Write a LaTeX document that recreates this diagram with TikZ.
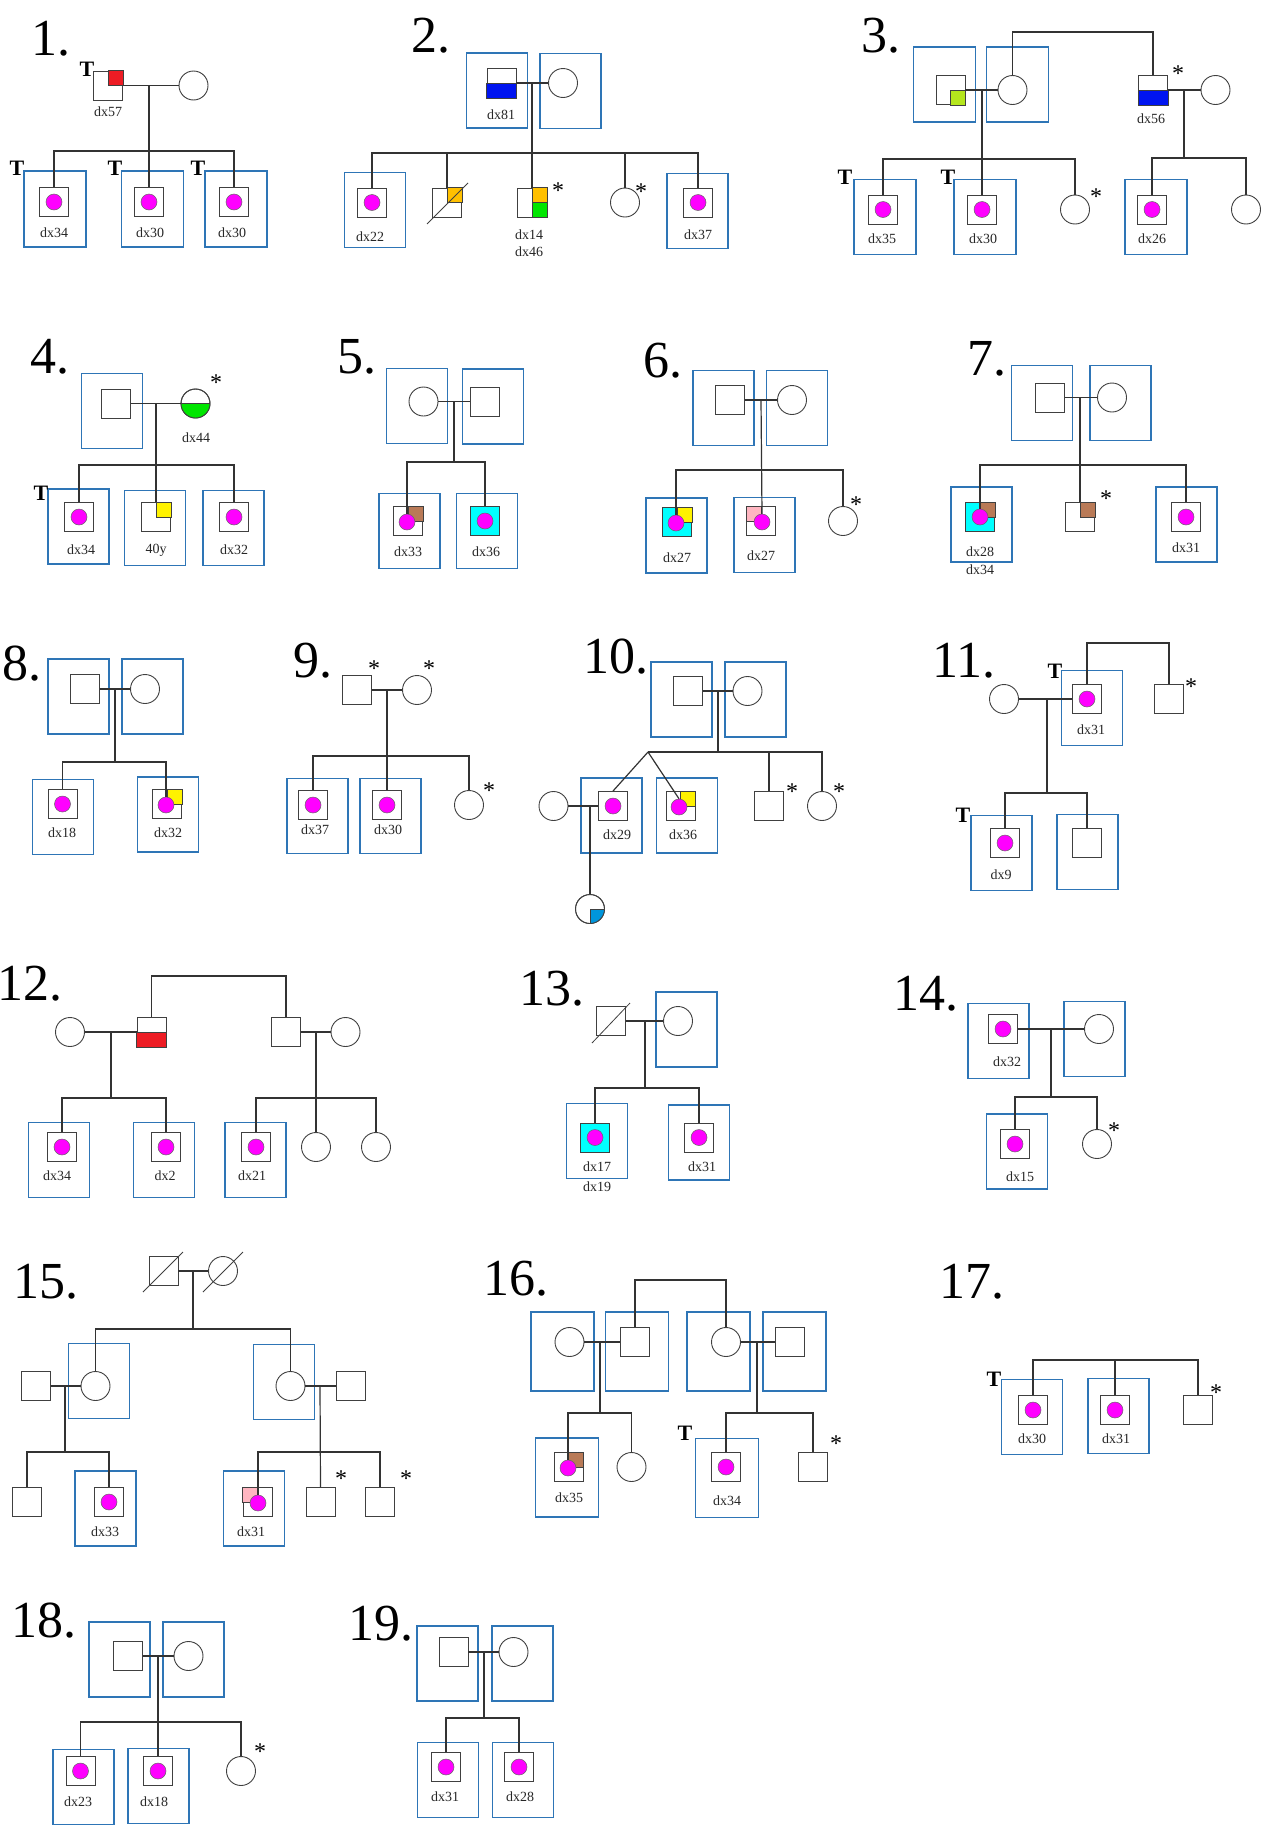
\documentclass[tikz,border=0pt]{standalone}
\usepackage{fontspec}
\setmainfont{Liberation Serif}
\usepackage{tikz}
\usetikzlibrary{positioning, calc}

\definecolor{boxblue}{RGB}{46,117,182}
\definecolor{dotpink}{RGB}{255,0,255}
\definecolor{qred}{RGB}{237,28,36}
\definecolor{qblue}{RGB}{0,20,240}
\definecolor{qgold}{RGB}{255,192,0}
\definecolor{qgreen}{RGB}{0,230,0}
\definecolor{qlime}{RGB}{181,230,29}
\definecolor{qyellow}{RGB}{255,242,0}
\definecolor{qbrown}{RGB}{185,122,87}
\definecolor{qcyan}{RGB}{0,255,255}
\definecolor{qpink}{RGB}{255,182,193}
\definecolor{qsky}{RGB}{0,150,220}

\tikzset{
  male/.style={draw=black!75, fill=white, rectangle, minimum size=29pt, inner sep=0pt, line width=0.9pt},
  female/.style={draw=black!75, fill=white, circle, minimum size=29pt, inner sep=0pt, line width=0.9pt},
  pbox/.style={draw=boxblue, line width=1.8pt, rectangle, minimum width=61pt, minimum height=75pt, inner sep=0pt},
  mdot/.style={circle, fill=dotpink, draw=black!60, line width=0.5pt, minimum size=16pt, inner sep=0pt},
  qfill/.style={fill=#1, draw=black!75, line width=0.8pt},
  lbl/.style={font=\fontsize{14}{16}\selectfont, inner sep=0pt, text=black!85},
  num/.style={font=\fontsize{52}{56}\selectfont, anchor=base west, inner sep=0pt},
  tmark/.style={font=\bfseries\fontsize{22}{24}\selectfont, inner sep=0pt},
  ast/.style={font=\fontsize{24}{26}\selectfont, inner sep=0pt, yshift=-3.5pt},
  rel/.style={draw=black!80, line width=1.2pt},
  gone/.style={draw=black!75, line width=0.8pt}
}

\begin{document}
\begin{tikzpicture}[x=1pt, y=-1pt]
\useasboundingbox (0,0) rectangle (1272,1831);

% Pedigree 1
\node[num] (n1) at (31,55) {1.};
\node[pbox, minimum width=62pt, minimum height=76pt] (b1a) at (55,209) {};
\node[pbox, minimum width=62pt, minimum height=76pt] (b1b) at (152.5,209) {};
\node[pbox, minimum width=62pt, minimum height=76pt] (b1c) at (236,209) {};
\node[male] (p1f) at (108,85.5) {};
\filldraw[qfill=qred] (p1f.center) rectangle (p1f.north east);
\node[female] (p1m) at (193.5,85.5) {};
\node[tmark] (t1f) at (87,69) {T};
\node[lbl] (l1f) at (108,112) {dx57};
\node[male] (p1c1) at (54,202) {};
\node[mdot] (d1c1) at (p1c1.center) {};
\node[male] (p1c2) at (149,202) {};
\node[mdot] (d1c2) at (p1c2.center) {};
\node[male] (p1c3) at (234,202) {};
\node[mdot] (d1c3) at (p1c3.center) {};
\node[lbl] (l1c1) at (54,233) {dx34};
\node[lbl] (l1c2) at (150,233) {dx30};
\node[lbl] (l1c3) at (232,233) {dx30};
\node[tmark] (t1c1) at (17,168) {T};
\node[tmark] (t1c2) at (115,168) {T};
\node[tmark] (t1c3) at (198,168) {T};
\coordinate (m1) at (149,85.5);
\coordinate (s1) at (149,151);
\draw[rel] (p1f.east) -- (p1m.west);
\draw[rel] (m1) -- (p1c2.north);
\draw[rel] (p1c1.north) |- (s1) -| (p1c3.north);

% Pedigree 2
\node[num] (n2) at (411,52) {2.};
\node[pbox] (b2f) at (497,90.5) {};
\node[pbox] (b2m) at (570.5,91) {};
\node[pbox] (b2c1) at (375,210) {};
\node[pbox] (b2c5) at (697.5,211) {};
\node[male] (p2f) at (501.5,83) {};
\filldraw[qfill=qblue] (p2f.west) rectangle (p2f.south east);
\node[female] (p2m) at (563,83) {};
\node[lbl] (l2f) at (501,115) {dx81};
\node[male] (p2c1) at (372,202.5) {};
\node[mdot] (d2c1) at (p2c1.center) {};
\node[lbl] (l2c1) at (370,237) {dx22};
\node[male] (p2c2) at (447,202.5) {};
\filldraw[qfill=qgold] (p2c2.center) rectangle (p2c2.north east);
\draw[gone] ([shift={(-20pt,-21.5pt)}]p2c2.center) -- ([shift={(21pt,19.5pt)}]p2c2.center);
\node[male] (p2c3) at (532,202.5) {};
\filldraw[qfill=qgold] (p2c3.center) rectangle (p2c3.north east);
\filldraw[qfill=qgreen] (p2c3.center) rectangle (p2c3.south east);
\node[ast] (a2c3) at (558,187) {*};
\node[lbl] (l2c3a) at (529,235) {dx14};
\node[lbl] (l2c3b) at (529,252) {dx46};
\node[female] (p2c4) at (625,202.5) {};
\node[ast] (a2c4) at (641,188) {*};
\node[male] (p2c5) at (698,202.5) {};
\node[mdot] (d2c5) at (p2c5.center) {};
\node[lbl] (l2c5) at (698,235) {dx37};
\coordinate (m2) at (532,83);
\coordinate (s2) at (532,153);
\draw[rel] (p2f.east) -- (p2m.west);
\draw[rel] (m2) -- (p2c3.north);
\draw[rel] (p2c1.north) |- (s2) -| (p2c5.north);
\draw[rel] (p2c2.north) -- (p2c2.north |- s2);
\draw[rel] (p2c4.north) -- (p2c4.north |- s2);

% Pedigree 3
\node[num] (n3) at (861,52) {3.};
\node[pbox, minimum width=62pt] (b3f) at (944.5,84.5) {};
\node[pbox, minimum width=62pt] (b3m) at (1017.5,84.5) {};
\node[pbox, minimum width=62pt] (b3c1) at (885,217) {};
\node[pbox, minimum width=62pt] (b3c2) at (985,217) {};
\node[pbox, minimum width=62pt] (b3c4) at (1156,217) {};
\node[male] (p3f) at (950.5,90) {};
\filldraw[qfill=qlime] (p3f.center) rectangle (p3f.south east);
\node[female] (p3m) at (1012.5,90) {};
\node[male] (p3b) at (1153,90) {};
\filldraw[qfill=qblue] (p3b.west) rectangle (p3b.south east);
\node[ast] (a3b) at (1178,70) {*};
\node[lbl] (l3b) at (1151,119) {dx56};
\node[female] (p3bw) at (1215.5,90) {};
\node[male] (p3c1) at (883,209.5) {};
\node[mdot] (d3c1) at (p3c1.center) {};
\node[lbl] (l3c1) at (882,239) {dx35};
\node[tmark] (t3c1) at (845,177) {T};
\node[male] (p3c2) at (982,209.5) {};
\node[mdot] (d3c2) at (p3c2.center) {};
\node[lbl] (l3c2) at (983,239) {dx30};
\node[tmark] (t3c2) at (948,177) {T};
\node[female] (p3c3) at (1075,209.5) {};
\node[ast] (a3c3) at (1096,193) {*};
\node[male] (p3c4) at (1152,209.5) {};
\node[mdot] (d3c4) at (p3c4.center) {};
\node[lbl] (l3c4) at (1152,239) {dx26};
\node[female] (p3c5) at (1246,209.5) {};
\coordinate (u3) at (1153,32);
\coordinate (m3) at (982,90);
\coordinate (s3) at (982,159);
\coordinate (m3b) at (1184,90);
\coordinate (s3b) at (1184,158);
\draw[rel] (p3m.north) |- (u3) -- (p3b.north);
\draw[rel] (p3f.east) -- (p3m.west);
\draw[rel] (m3) -- (p3c2.north);
\draw[rel] (p3c1.north) |- (s3) -| (p3c3.north);
\draw[rel] (p3b.east) -- (p3bw.west);
\draw[rel] (m3b) -- (s3b);
\draw[rel] (p3c4.north) |- (s3b) -| (p3c5.north);

% Pedigree 4
\node[num] (n4) at (30,373) {4.};
\node[pbox] (b4f) at (112,411) {};
\node[pbox] (b4c1) at (78.5,526.5) {};
\node[pbox] (b4c2) at (155,528) {};
\node[pbox] (b4c3) at (233.5,528) {};
\node[male] (p4f) at (116,403.5) {};
\node[female] (p4m) at (195.5,403.5) {};
\begin{scope}
  \clip (p4m.center) circle (14.5pt);
  \fill[qgreen] (p4m.west) rectangle ([shift={(15pt,-15pt)}]p4m.center);
\end{scope}
\draw[gone] (p4m.west) -- (p4m.east);
\draw[black!75, line width=0.9pt] (p4m.center) circle (14.5pt);
\node[ast] (a4m) at (216,379) {*};
\node[lbl] (l4m) at (196,438) {dx44};
\node[male] (p4c1) at (79,517) {};
\node[mdot] (d4c1) at (p4c1.center) {};
\node[lbl] (l4c1) at (81,550) {dx34};
\node[tmark] (t4c1) at (41,493) {T};
\node[male] (p4c2) at (156,517) {};
\filldraw[qfill=qyellow] (p4c2.center) rectangle (p4c2.north east);
\node[lbl] (l4c2) at (156,550) {40y};
\node[male] (p4c3) at (234,517) {};
\node[mdot] (d4c3) at (p4c3.center) {};
\node[lbl] (l4c3) at (234,550) {dx32};
\coordinate (m4) at (156,404);
\coordinate (s4) at (156,465);
\draw[rel] (p4f.east) -- (p4m.west);
\draw[rel] (m4) -- (p4c2.north);
\draw[rel] (p4c1.north) |- (s4) -| (p4c3.north);

% Pedigree 5
\node[num] (n5) at (337,373) {5.};
\node[pbox] (b5m) at (417,406) {};
\node[pbox] (b5f) at (493,406.5) {};
\node[pbox] (b5c1) at (409.5,531) {};
\node[pbox] (b5c2) at (487,531) {};
\node[female] (p5m) at (423.5,401.5) {};
\node[male] (p5f) at (485,401.5) {};
\node[male] (p5c1) at (408,521) {};
\filldraw[qfill=qbrown] (p5c1.center) rectangle (p5c1.north east);
\node[mdot] (d5c1) at (407,522) {};
\node[lbl] (l5c1) at (408,552) {dx33};
\node[male, fill=qcyan] (p5c2) at (485,521) {};
\node[mdot] (d5c2) at (p5c2.center) {};
\node[lbl] (l5c2) at (486,552) {dx36};
\coordinate (m5) at (454,401.5);
\coordinate (s5) at (454,462);
\draw[rel] (p5m.east) -- (p5f.west);
\draw[rel] (m5) -- (s5);
\draw[rel] (d5c1.north) |- (s5) -| (p5c2.north);

% Pedigree 6
\node[num] (n6) at (643,377) {6.};
\node[pbox] (b6f) at (723.5,408) {};
\node[pbox] (b6m) at (797,408) {};
\node[pbox] (b6c1) at (676.5,535.5) {};
\node[pbox] (b6c2) at (764.5,535) {};
\node[male] (p6f) at (730,400) {};
\node[female] (p6m) at (792,400) {};
\node[male, fill=qcyan] (p6c1) at (677,522) {};
\filldraw[qfill=qyellow] (p6c1.center) rectangle (p6c1.north east);
\node[mdot] (d6c1) at (676,523) {};
\node[lbl] (l6c1) at (677,558) {dx27};
\node[male] (p6c2) at (761,521) {};
\filldraw[qfill=qpink] (p6c2.center) rectangle (p6c2.north west);
\node[mdot] (d6c2) at (762,522) {};
\node[lbl] (l6c2) at (761,556) {dx27};
\node[female] (p6c3) at (843,521) {};
\node[ast] (a6c3) at (856,501) {*};
\coordinate (m6) at (761,400);
\coordinate (s6) at (761,470);
\draw[rel] (p6f.east) -- (p6m.west);
\draw[rel] (m6) -- (d6c2.north);
\draw[rel] (d6c1.north) |- (s6) -| (p6c3.north);

% Pedigree 7
\node[num] (n7) at (967,375) {7.};
\node[pbox] (b7f) at (1042,403) {};
\node[pbox] (b7m) at (1120.5,403) {};
\node[pbox] (b7c1) at (981.5,524.5) {};
\node[pbox] (b7c3) at (1186.5,524.5) {};
\node[male] (p7f) at (1050,397.5) {};
\node[female] (p7m) at (1112,397.5) {};
\node[male, fill=qcyan] (p7c1) at (980,517) {};
\filldraw[qfill=qbrown] (p7c1.center) rectangle (p7c1.north east);
\node[mdot] (d7c1) at (p7c1.center) {};
\node[lbl] (l7c1a) at (980,552) {dx28};
\node[lbl] (l7c1b) at (980,570) {dx34};
\node[male] (p7c2) at (1080,517) {};
\filldraw[qfill=qbrown] (p7c2.center) rectangle (p7c2.north east);
\node[ast] (a7c2) at (1106,495) {*};
\node[male] (p7c3) at (1186,517) {};
\node[mdot] (d7c3) at (p7c3.center) {};
\node[lbl] (l7c3) at (1186,548) {dx31};
\coordinate (m7) at (1080,397.5);
\coordinate (s7) at (1080,465);
\draw[rel] (p7f.east) -- (p7m.west);
\draw[rel] (m7) -- (p7c2.north);
\draw[rel] (d7c1.north) |- (s7) -| (p7c3.north);

% Pedigree 8
\node[num] (n8) at (2,680) {8.};
\node[pbox] (b8f) at (78.5,696.5) {};
\node[pbox] (b8m) at (152.5,696.5) {};
\node[pbox] (b8c1) at (63,817) {};
\node[pbox] (b8c2) at (168,814.5) {};
\node[male] (p8f) at (85,689) {};
\node[female] (p8m) at (145,689) {};
\node[male] (p8c1) at (62.5,804) {};
\node[mdot] (d8c1) at (p8c1.center) {};
\node[lbl] (l8c1) at (62,833) {dx18};
\node[male] (p8c2) at (167,804) {};
\filldraw[qfill=qyellow] (p8c2.center) rectangle (p8c2.north east);
\node[mdot] (d8c2) at (166,805) {};
\node[lbl] (l8c2) at (168,833) {dx32};
\coordinate (m8) at (115,689);
\coordinate (s8) at (115,762);
\draw[rel] (p8f.east) -- (p8m.west);
\draw[rel] (m8) -- (s8);
\draw[rel] (p8c1.north) |- (s8) -| (d8c2.north);

% Pedigree 9
\node[num] (n9) at (293,677) {9.};
\node[pbox] (b9c1) at (317.5,816) {};
\node[pbox] (b9c2) at (390.5,816) {};
\node[male] (p9f) at (357,690) {};
\node[ast] (a9f) at (374,665) {*};
\node[female] (p9m) at (417,690) {};
\node[ast] (a9m) at (429,665) {*};
\node[male] (p9c1) at (313,805) {};
\node[mdot] (d9c1) at (p9c1.center) {};
\node[lbl] (l9c1) at (315,830) {dx37};
\node[male] (p9c2) at (387,805) {};
\node[mdot] (d9c2) at (p9c2.center) {};
\node[lbl] (l9c2) at (388,830) {dx30};
\node[female] (p9c3) at (469,805) {};
\node[ast] (a9c3) at (489,787) {*};
\coordinate (m9) at (387,690);
\coordinate (s9) at (387,756);
\draw[rel] (p9f.east) -- (p9m.west);
\draw[rel] (m9) -- (p9c2.north);
\draw[rel] (p9c1.north) |- (s9) -| (p9c3.north);

% Pedigree 10
\node[num] (n10) at (583,673) {10.};
\node[pbox] (b10f) at (681.5,699.5) {};
\node[pbox] (b10m) at (755.5,699.5) {};
\node[pbox] (b10c1) at (611.5,815.5) {};
\node[pbox] (b10c2) at (687,815.5) {};
\node[male] (p10f) at (688,691) {};
\node[female] (p10m) at (747.5,691) {};
\node[female] (p10w) at (553.5,806) {};
\node[male] (p10c1) at (613,806) {};
\node[mdot] (d10c1) at (p10c1.center) {};
\node[lbl] (l10c1) at (617,835) {dx29};
\node[female] (p10d) at (590,909) {};
\begin{scope}
  \clip (p10d.center) circle (14.5pt);
  \fill[qsky] (p10d.center) rectangle ([shift={(15pt,-15pt)}]p10d.center);
\end{scope}
\draw[gone] (p10d.east) -- (p10d.center) -- (p10d.south);
\draw[black!75, line width=0.9pt] (p10d.center) circle (14.5pt);
\node[male] (p10c2) at (680.5,806) {};
\filldraw[qfill=qyellow] (p10c2.center) rectangle (p10c2.north east);
\node[mdot] (d10c2) at (679,807) {};
\node[lbl] (l10c2) at (683,835) {dx36};
\node[male] (p10c3) at (769,806) {};
\node[ast] (a10c3) at (792,788) {*};
\node[female] (p10c4) at (822,806) {};
\node[ast] (a10c4) at (839,788) {*};
\coordinate (m10) at (718,691);
\coordinate (s10) at (718,752);
\coordinate (tw10) at (648,752);
\coordinate (m10b) at (590,806);
\draw[rel] (p10f.east) -- (p10m.west);
\draw[rel] (m10) -- (s10);
\draw[rel] (tw10) -| (p10c4.north);
\draw[rel] (p10c3.north) -- (p10c3.north |- s10);
\draw[rel] (tw10) -- (p10c1.north);
\draw[rel] (tw10) -- (d10c2.north);
\draw[rel] (p10w.east) -- (p10c1.west);
\draw[rel] (m10b) -- (p10d.north);

% Pedigree 11
\node[num] (n11) at (932,677) {11.};
\node[pbox] (b11h) at (1092,708) {};
\node[pbox] (b11c1) at (1001.5,853) {};
\node[pbox] (b11c2) at (1087.5,852) {};
\node[female] (p11w) at (1004,699) {};
\node[male] (p11h) at (1087,699) {};
\node[mdot] (d11h) at (p11h.center) {};
\node[lbl] (l11h) at (1091,730) {dx31};
\node[tmark] (t11h) at (1055,671) {T};
\node[male] (p11b) at (1169,699) {};
\node[ast] (a11b) at (1191,683) {*};
\node[male] (p11c1) at (1005,843) {};
\node[mdot] (d11c1) at (p11c1.center) {};
\node[lbl] (l11c1) at (1001,875) {dx9};
\node[tmark] (t11c1) at (963,815) {T};
\node[male] (p11c2) at (1087,843) {};
\coordinate (u11) at (1169,643);
\coordinate (m11) at (1047,699);
\coordinate (s11) at (1047,793);
\draw[rel] (p11h.north) |- (u11) -- (p11b.north);
\draw[rel] (p11w.east) -- (p11h.west);
\draw[rel] (m11) -- (s11);
\draw[rel] (p11c1.north) |- (s11) -| (p11c2.north);

% Pedigree 12
\node[num] (n12) at (-3,1000) {12.};
\node[pbox] (b12c1) at (59,1160) {};
\node[pbox] (b12c2) at (164,1160) {};
\node[pbox] (b12c3) at (255.5,1160) {};
\node[female] (p12w) at (70,1032) {};
\node[male] (p12h) at (151.5,1032) {};
\filldraw[qfill=qred] (p12h.west) rectangle (p12h.south east);
\node[male] (p12b) at (286,1032) {};
\node[female] (p12bw) at (345.5,1032) {};
\node[male] (p12c1) at (62,1147) {};
\node[mdot] (d12c1) at (p12c1.center) {};
\node[lbl] (l12c1) at (57,1176) {dx34};
\node[male] (p12c2) at (166,1147) {};
\node[mdot] (d12c2) at (p12c2.center) {};
\node[lbl] (l12c2) at (165,1176) {dx2};
\node[male] (p12c3) at (256,1147) {};
\node[mdot] (d12c3) at (p12c3.center) {};
\node[lbl] (l12c3) at (252,1176) {dx21};
\node[female] (p12c4) at (316,1147) {};
\node[female] (p12c5) at (376,1147) {};
\coordinate (u12) at (286,976);
\coordinate (m12) at (111,1032);
\coordinate (s12) at (111,1098);
\coordinate (m12b) at (316,1032);
\coordinate (s12b) at (316,1098);
\draw[rel] (p12h.north) |- (u12) -- (p12b.north);
\draw[rel] (p12w.east) -- (p12h.west);
\draw[rel] (m12) -- (s12);
\draw[rel] (p12c1.north) |- (s12) -| (p12c2.north);
\draw[rel] (p12b.east) -- (p12bw.west);
\draw[rel] (m12b) -- (p12c4.north);
\draw[rel] (p12c3.north) |- (s12b) -| (p12c5.north);

% Pedigree 13
\node[num] (n13) at (519,1005) {13.};
\node[pbox] (b13m) at (686.5,1029.5) {};
\node[pbox] (b13c1) at (597,1141) {};
\node[pbox] (b13c2) at (699,1142.5) {};
\node[male] (p13f) at (611,1021) {};
\draw[gone] ([shift={(-19pt,-22pt)}]p13f.center) -- ([shift={(19pt,18pt)}]p13f.center);
\node[female] (p13m) at (678,1021) {};
\node[male, fill=qcyan] (p13c1) at (595,1137.5) {};
\node[mdot] (d13c1) at (p13c1.center) {};
\node[lbl] (l13c1a) at (597,1167) {dx17};
\node[lbl] (l13c1b) at (597,1187) {dx19};
\node[male] (p13c2) at (699,1137.5) {};
\node[mdot] (d13c2) at (p13c2.center) {};
\node[lbl] (l13c2) at (702,1167) {dx31};
\coordinate (m13) at (645,1021);
\coordinate (s13) at (645,1088);
\draw[rel] (p13f.east) -- (p13m.west);
\draw[rel] (m13) -- (s13);
\draw[rel] (p13c1.north) |- (s13) -| (p13c2.north);

% Pedigree 14
\node[num] (n14) at (893,1010) {14.};
\node[pbox] (b14h) at (998.5,1041) {};
\node[pbox] (b14w) at (1094.5,1039) {};
\node[pbox] (b14c1) at (1017,1151.5) {};
\node[male] (p14h) at (1003,1029) {};
\node[mdot] (d14h) at (p14h.center) {};
\node[lbl] (l14h) at (1007,1062) {dx32};
\node[female] (p14w) at (1099,1029) {};
\node[male] (p14c1) at (1015,1144) {};
\node[mdot] (d14c1) at (p14c1.center) {};
\node[lbl] (l14c1) at (1020,1177) {dx15};
\node[female] (p14c2) at (1097,1144) {};
\node[ast] (a14c2) at (1114,1127) {*};
\coordinate (m14) at (1051,1029);
\coordinate (s14) at (1051,1097);
\draw[rel] (p14h.east) -- (p14w.west);
\draw[rel] (m14) -- (s14);
\draw[rel] (p14c1.north) |- (s14) -| (p14c2.north);

% Pedigree 15
\node[num] (n15) at (13,1298) {15.};
\node[pbox] (b15a) at (99,1381) {};
\node[pbox] (b15b) at (284,1382) {};
\node[pbox] (b15a2) at (105.5,1508.5) {};
\node[pbox] (b15b1) at (254,1508.5) {};
\node[male] (p15f) at (163.5,1271) {};
\draw[gone] ([shift={(-20.5pt,-21pt)}]p15f.center) -- ([shift={(19.5pt,19pt)}]p15f.center);
\node[female] (p15m) at (223,1271) {};
\draw[gone] ([shift={(-20pt,-21pt)}]p15m.center) -- ([shift={(20pt,19pt)}]p15m.center);
\node[male] (p15ah) at (36,1386) {};
\node[female] (p15a) at (95.5,1386) {};
\node[female] (p15b) at (290.5,1386) {};
\node[male] (p15bh) at (350.5,1386) {};
\node[male] (p15a1) at (27,1502) {};
\node[male] (p15a2) at (109,1502) {};
\node[mdot] (d15a2) at (p15a2.center) {};
\node[lbl] (l15a2) at (105,1532) {dx33};
\node[male] (p15b1) at (257.5,1502) {};
\filldraw[qfill=qpink] (p15b1.center) rectangle (p15b1.north west);
\node[mdot] (d15b1) at (258,1503) {};
\node[lbl] (l15b1) at (251,1532) {dx31};
\node[male] (p15b2) at (320.5,1502) {};
\node[ast] (a15b2) at (341,1475) {*};
\node[male] (p15b3) at (380,1502) {};
\node[ast] (a15b3) at (406,1475) {*};
\coordinate (m15) at (193,1271);
\coordinate (s15) at (193,1329);
\coordinate (m15a) at (65,1386);
\coordinate (s15a) at (65,1452);
\coordinate (m15b) at (320,1386);
\coordinate (s15b) at (320,1452);
\draw[rel] (p15f.east) -- (p15m.west);
\draw[rel] (m15) -- (s15);
\draw[rel] (p15a.north) |- (s15) -| (p15b.north);
\draw[rel] (p15ah.east) -- (p15a.west);
\draw[rel] (m15a) -- (s15a);
\draw[rel] (p15a1.north) |- (s15a) -| (p15a2.north);
\draw[rel] (p15b.east) -- (p15bh.west);
\draw[rel] (m15b) -- (p15b2.north);
\draw[rel] (d15b1.north) |- (s15b) -| (p15b3.north);

% Pedigree 16
\node[num] (n16) at (483,1295) {16.};
\node[pbox, minimum width=63pt, minimum height=79pt] (b16aw) at (562.5,1351.5) {};
\node[pbox, minimum width=63pt, minimum height=79pt] (b16ah) at (637,1351.5) {};
\node[pbox, minimum width=63pt, minimum height=79pt] (b16bw) at (718.5,1351.5) {};
\node[pbox, minimum width=63pt, minimum height=79pt] (b16bh) at (794.5,1351.5) {};
\node[pbox, minimum width=63pt, minimum height=79pt] (b16a1) at (567,1477.5) {};
\node[pbox, minimum width=63pt, minimum height=79pt] (b16b1) at (727,1478) {};
\node[female] (p16aw) at (569.5,1342) {};
\node[male] (p16ah) at (635,1342) {};
\node[female] (p16bw) at (726,1342) {};
\node[male] (p16bh) at (789.5,1342) {};
\node[male] (p16a1) at (568.5,1467) {};
\filldraw[qfill=qbrown] (p16a1.center) rectangle (p16a1.north east);
\node[mdot] (d16a1) at (568,1468) {};
\node[lbl] (l16a1) at (569,1498) {dx35};
\node[female] (p16a2) at (631.5,1467) {};
\node[male] (p16b1) at (726,1467) {};
\node[mdot] (d16b1) at (p16b1.center) {};
\node[lbl] (l16b1) at (727,1501) {dx34};
\node[tmark] (t16b1) at (685,1433) {T};
\node[male] (p16b2) at (813,1467) {};
\node[ast] (a16b2) at (836,1440) {*};
\coordinate (u16) at (726,1280);
\coordinate (m16a) at (600,1342);
\coordinate (s16a) at (600,1413);
\coordinate (m16b) at (757,1342);
\coordinate (s16b) at (757,1413);
\draw[rel] (p16ah.north) |- (u16) -- (p16bw.north);
\draw[rel] (p16aw.east) -- (p16ah.west);
\draw[rel] (m16a) -- (s16a);
\draw[rel] (d16a1.north) |- (s16a) -| (p16a2.north);
\draw[rel] (p16bw.east) -- (p16bh.west);
\draw[rel] (m16b) -- (s16b);
\draw[rel] (p16b1.north) |- (s16b) -| (p16b2.north);

% Pedigree 17
\node[num] (n17) at (939,1298) {17.};
\node[pbox] (b17c1) at (1032,1417) {};
\node[pbox] (b17c2) at (1118.5,1416) {};
\node[male] (p17c1) at (1033,1410) {};
\node[mdot] (d17c1) at (p17c1.center) {};
\node[lbl] (l17c1) at (1032,1439) {dx30};
\node[tmark] (t17c1) at (994,1379) {T};
\node[male] (p17c2) at (1115,1410) {};
\node[mdot] (d17c2) at (p17c2.center) {};
\node[lbl] (l17c2) at (1116,1439) {dx31};
\node[male] (p17c3) at (1198,1410) {};
\node[ast] (a17c3) at (1216,1389) {*};
\coordinate (s17) at (1115,1360);
\draw[rel] (p17c1.north) |- (s17) -| (p17c3.north);
\draw[rel] (s17) -- (p17c2.north);

% Pedigree 18
\node[num] (n18) at (11,1637) {18.};
\node[pbox] (b18f) at (119.5,1659.5) {};
\node[pbox] (b18m) at (193.5,1659.5) {};
\node[pbox] (b18c1) at (83.5,1787) {};
\node[pbox] (b18c2) at (158.5,1786) {};
\node[male] (p18f) at (128,1656) {};
\node[female] (p18m) at (188.5,1656) {};
\node[male] (p18c1) at (80.5,1771) {};
\node[mdot] (d18c1) at (p18c1.center) {};
\node[lbl] (l18c1) at (78,1802) {dx23};
\node[male] (p18c2) at (158,1771) {};
\node[mdot] (d18c2) at (p18c2.center) {};
\node[lbl] (l18c2) at (154,1802) {dx18};
\node[female] (p18c3) at (241,1771) {};
\node[ast] (a18c3) at (260,1748) {*};
\coordinate (m18) at (158,1656);
\coordinate (s18) at (158,1722);
\draw[rel] (p18f.east) -- (p18m.west);
\draw[rel] (m18) -- (p18c2.north);
\draw[rel] (p18c1.north) |- (s18) -| (p18c3.north);

% Pedigree 19
\node[num] (n19) at (348,1640) {19.};
\node[pbox] (b19f) at (447.5,1663.5) {};
\node[pbox] (b19m) at (522.5,1663.5) {};
\node[pbox] (b19c1) at (448,1780) {};
\node[pbox] (b19c2) at (523,1780) {};
\node[male] (p19f) at (453.5,1652) {};
\node[female] (p19m) at (513.5,1652) {};
\node[male] (p19c1) at (446,1767) {};
\node[mdot] (d19c1) at (p19c1.center) {};
\node[lbl] (l19c1) at (445,1797) {dx31};
\node[male] (p19c2) at (519,1767) {};
\node[mdot] (d19c2) at (p19c2.center) {};
\node[lbl] (l19c2) at (520,1797) {dx28};
\coordinate (m19) at (484,1652);
\coordinate (s19) at (484,1718);
\draw[rel] (p19f.east) -- (p19m.west);
\draw[rel] (m19) -- (s19);
\draw[rel] (p19c1.north) |- (s19) -| (p19c2.north);
\end{tikzpicture}
\end{document}
